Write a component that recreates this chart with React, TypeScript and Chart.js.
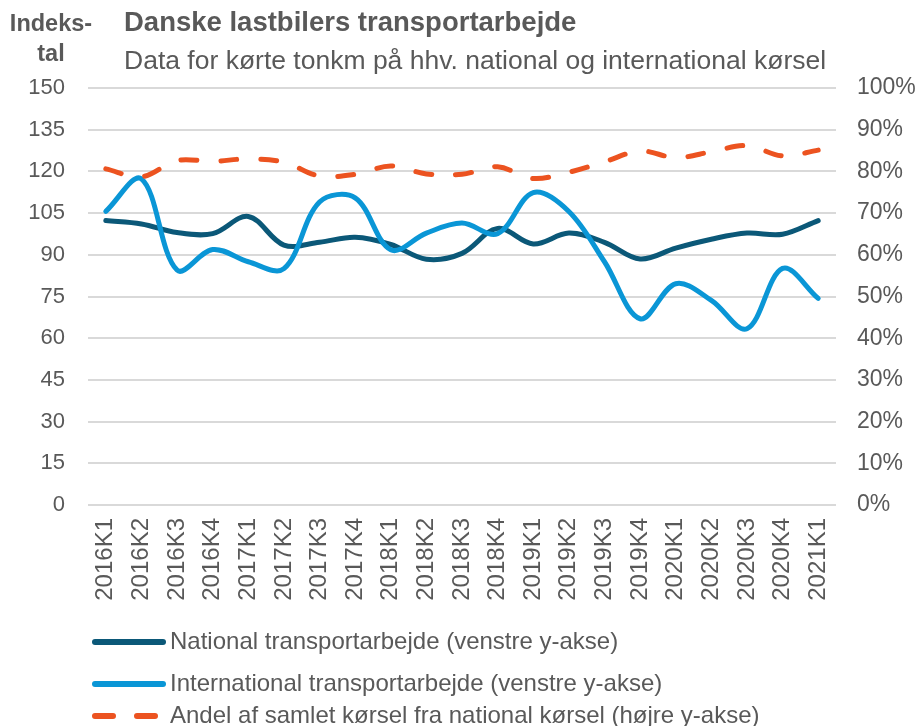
import React, { useEffect, useRef } from "react";
import { Chart, registerables } from "chart.js";

Chart.register(...registerables);

const categories = [
  "2016K1", "2016K2", "2016K3", "2016K4",
  "2017K1", "2017K2", "2017K3", "2017K4",
  "2018K1", "2018K2", "2018K3", "2018K4",
  "2019K1", "2019K2", "2019K3", "2019K4",
  "2020K1", "2020K2", "2020K3", "2020K4",
  "2021K1",
];

const nationalValues = [
  102.3, 101.1, 98.0, 97.6, 103.8, 93.5, 94.5, 96.3, 93.7, 88.4, 90.5,
  99.5, 93.9, 97.8, 94.5, 88.5, 92.4, 95.6, 97.8, 97.4, 102.3,
];

const internationalValues = [
  105.6, 117.3, 84.5, 91.9, 87.5, 85.0, 109.0, 110.5, 91.8, 97.8, 101.4,
  97.6, 112.4, 105.6, 87.5, 67.0, 79.6, 73.6, 63.4, 85.1, 74.3,
];

const nationalShare = [
  80.6, 78.7, 82.6, 82.4, 83.0, 82.2, 78.9, 79.3, 81.3, 79.4, 79.3,
  81.1, 78.3, 79.8, 82.3, 84.9, 83.3, 84.7, 86.2, 83.7, 85.1,
];

const seriesNames = [
  "National transportarbejde (venstre y-akse)",
  "International transportarbejde (venstre y-akse)",
  "Andel af samlet kørsel fra national kørsel (højre y-akse)",
];

const titleText = "Danske lastbilers transportarbejde";
const subtitleText = "Data for kørte tonkm på hhv. national og international kørsel";
const leftAxisTitle = ["Indeks-", "tal"];

const COL_NAT = "#0B5878";
const COL_INT = "#0A96D6";
const COL_SHARE = "#EC5320";
const TEXT = "#595959";
const FONT = "'Liberation Sans', Arial, sans-serif";

const decorPlugin = {
  id: "decor",
  afterDraw(chart: any) {
    const ctx = chart.ctx;
    ctx.save();
    ctx.fillStyle = TEXT;
    ctx.textBaseline = "middle";
    // left axis title
    ctx.font = `bold 23.5px ${FONT}`;
    ctx.textAlign = "center";
    ctx.fillText(leftAxisTitle[0], 51, 25);
    ctx.fillText(leftAxisTitle[1], 51, 55);
    // title
    ctx.textAlign = "left";
    ctx.font = `bold 27.5px ${FONT}`;
    ctx.fillText(titleText, 124, 23);
    ctx.font = `26.5px ${FONT}`;
    ctx.fillText(subtitleText, 124, 62);

    // legend
    const rows = [642, 684, 716];
    const colors = [COL_NAT, COL_INT, COL_SHARE];
    ctx.lineCap = "round";
    ctx.lineWidth = 6;
    rows.forEach((y, i) => {
      ctx.strokeStyle = colors[i];
      ctx.beginPath();
      if (i === 2) {
        ctx.setLineDash([18, 24]);
      } else {
        ctx.setLineDash([]);
      }
      ctx.moveTo(95, y);
      ctx.lineTo(163, y);
      ctx.stroke();
      ctx.setLineDash([]);
      ctx.font = `24px ${FONT}`;
      ctx.fillStyle = TEXT;
      ctx.fillText(seriesNames[i], 170, y);
    });
    ctx.restore();
  },
};

export default function App() {
  const ref = useRef<HTMLCanvasElement | null>(null);

  useEffect(() => {
    if (!ref.current) return;
    const chart = new Chart(ref.current, {
      type: "line",
      data: {
        labels: categories,
        datasets: [
          {
            label: seriesNames[0],
            data: nationalValues,
            borderColor: COL_NAT,
            backgroundColor: COL_NAT,
            borderWidth: 5,
            pointRadius: 0,
            tension: 0.35,
            yAxisID: "y",
            borderCapStyle: "round",
            order: 2,
          },
          {
            label: seriesNames[1],
            data: internationalValues,
            borderColor: COL_INT,
            backgroundColor: COL_INT,
            borderWidth: 5,
            pointRadius: 0,
            tension: 0.35,
            yAxisID: "y",
            borderCapStyle: "round",
            order: 1,
          },
          {
            label: seriesNames[2],
            data: nationalShare,
            borderColor: COL_SHARE,
            backgroundColor: COL_SHARE,
            borderWidth: 5,
            borderDash: [16, 24],
            borderCapStyle: "round",
            pointRadius: 0,
            tension: 0.35,
            yAxisID: "y1",
            order: 0,
          },
        ],
      },
      options: {
        animation: false,
        responsive: false,
        maintainAspectRatio: false,
        layout: { padding: { top: 88, left: 0, right: 0, bottom: 101 } },
        plugins: {
          legend: { display: false },
          tooltip: { enabled: false },
          title: { display: false },
        },
        scales: {
          x: {
            offset: true,
            grid: { display: false, drawTicks: false },
            border: { display: false },
            ticks: {
              autoSkip: false,
              minRotation: 90,
              maxRotation: 90,
              padding: 13,
              color: TEXT,
              font: { family: FONT, size: 24 },
            },
            afterFit(s: any) {
              s.height = 120;
            },
          },
          y: {
            position: "left",
            min: 0,
            max: 150,
            grid: { color: "#D9D9D9", lineWidth: 2, drawTicks: false },
            border: { display: false },
            ticks: {
              stepSize: 15,
              padding: 23,
              color: TEXT,
              font: { family: FONT, size: 22 },
            },
            afterFit(s: any) {
              s.width = 88;
            },
          },
          y1: {
            position: "right",
            min: 0,
            max: 100,
            grid: { display: false, drawTicks: false },
            border: { display: false },
            ticks: {
              stepSize: 10,
              padding: 21,
              color: TEXT,
              font: { family: FONT, size: 23 },
              callback: (v: any) => `${v}%`,
            },
            afterFit(s: any) {
              s.width = 82;
            },
          },
        },
      },
      plugins: [decorPlugin],
    });
    return () => chart.destroy();
  }, []);

  return (
    <div style={{ position: "fixed", left: 0, top: 0, width: 918, height: 726, background: "#fff" }}>
      <canvas ref={ref} width={918} height={726} style={{ width: 918, height: 726, display: "block" }} />
    </div>
  );
}
